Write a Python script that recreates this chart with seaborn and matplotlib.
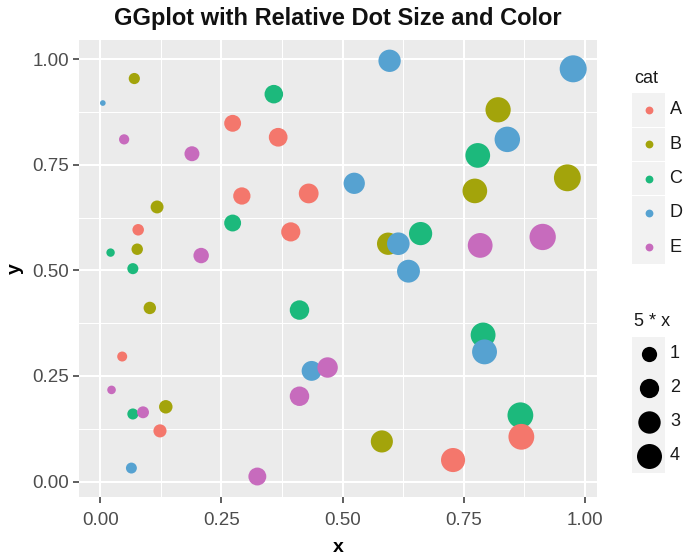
import numpy as np
import pandas as pd
import seaborn as sns
import matplotlib
matplotlib.use("Agg")
import matplotlib.pyplot as plt
from matplotlib.patches import Rectangle

# ---------------- data ----------------
cats = ["A", "B", "C", "D", "E"]
a_x = [0.273, 0.367, 0.292, 0.430, 0.393, 0.078, 0.045, 0.123, 0.869, 0.728]
a_y = [0.848, 0.815, 0.676, 0.682, 0.591, 0.596, 0.296, 0.120, 0.106, 0.051]
b_x = [0.070, 0.117, 0.076, 0.821, 0.773, 0.964, 0.594, 0.102, 0.135, 0.581]
b_y = [0.954, 0.650, 0.550, 0.880, 0.688, 0.719, 0.563, 0.411, 0.177, 0.095]
c_x = [0.358, 0.273, 0.021, 0.067, 0.779, 0.661, 0.411, 0.790, 0.067, 0.867]
c_y = [0.917, 0.612, 0.542, 0.504, 0.772, 0.587, 0.406, 0.347, 0.160, 0.157]
d_x = [0.005, 0.524, 0.597, 0.976, 0.840, 0.615, 0.636, 0.436, 0.793, 0.064]
d_y = [0.896, 0.706, 0.996, 0.977, 0.810, 0.563, 0.498, 0.262, 0.307, 0.032]
e_x = [0.049, 0.189, 0.208, 0.784, 0.913, 0.469, 0.023, 0.411, 0.088, 0.324]
e_y = [0.810, 0.776, 0.535, 0.559, 0.579, 0.270, 0.217, 0.202, 0.164, 0.012]
x_ticks = [0.00, 0.25, 0.50, 0.75, 1.00]
y_ticks = [0.00, 0.25, 0.50, 0.75, 1.00]
size_breaks = [1, 2, 3, 4]

colors = {"A": "#F4776C", "B": "#A3A40B", "C": "#1CB97C", "D": "#56A2D1", "E": "#C76BBD"}

# draw order (to reproduce overlaps)
order = ["C", "B", "D", "A", "E"]
xs = {"A": a_x, "B": b_x, "C": c_x, "D": d_x, "E": e_x}
ys = {"A": a_y, "B": b_y, "C": c_y, "D": d_y, "E": e_y}
df = pd.concat([pd.DataFrame({"x": xs[c], "y": ys[c], "cat": c}) for c in order],
               ignore_index=True)
df["sx"] = 5 * df["x"]

# ggplot-like area scale: diameter 1..6 ~ sqrt of rescaled value
vmin, vmax = df["sx"].min(), df["sx"].max()
PX_PER_UNIT = 1.5  # px per ggplot pt
DPI = 100


def area_for(v):
    size = 1 + 5 * np.sqrt((v - vmin) / (vmax - vmin))
    d_px = PX_PER_UNIT * (2.845 * size + 0.94)
    d_pt = d_px * 72 / DPI
    return d_pt ** 2


size_map = {v: area_for(v) for v in df["sx"].unique()}

# ---------------- figure ----------------
W, H = 685, 559
fig = plt.figure(figsize=(W / DPI, H / DPI), dpi=DPI)
L, R, T, B = 79.3, 596.7, 40, 497.3
ax = fig.add_axes([L / W, 1 - B / H, (R - L) / W, (B - T) / H])

FONT = "Liberation Sans"
ax.set_facecolor("#EBEBEB")

sns.scatterplot(data=df, x="x", y="y", hue="cat", palette=colors,
                size="sx", sizes=size_map, linewidth=0, legend=False,
                alpha=1, ax=ax, zorder=3)

# limits with 5% expansion
xr = df["x"].max() - df["x"].min()
yr = df["y"].max() - df["y"].min()
ax.set_xlim(df["x"].min() - 0.05 * xr, df["x"].max() + 0.05 * xr)
ax.set_ylim(df["y"].min() - 0.05 * yr, df["y"].max() + 0.05 * yr)

ax.set_xticks(x_ticks)
ax.set_yticks(y_ticks)
ax.set_xticklabels([f"{t:.2f}" for t in x_ticks], fontsize=13.5, color="#4D4D4D", family=FONT)
ax.set_yticklabels([f"{t:.2f}" for t in y_ticks], fontsize=13.5, color="#4D4D4D", family=FONT)
minor = [0.125, 0.375, 0.625, 0.875]
ax.set_xticks(minor, minor=True)
ax.set_yticks(minor, minor=True)
ax.tick_params(which="major", length=4, width=1.1, color="#333333")
ax.tick_params(axis="x", which="major", pad=6.5)
ax.tick_params(axis="y", which="major", pad=3.5)
ax.tick_params(which="minor", length=0)
ax.grid(which="major", color="white", linewidth=1.5, zorder=0)
ax.grid(which="minor", color="white", linewidth=0.75, zorder=0)
ax.set_axisbelow(True)
for s in ax.spines.values():
    s.set_visible(False)

ax.set_xlabel("x", fontsize=14, fontweight="bold", family=FONT, labelpad=7)
ax.set_ylabel("y", fontsize=14, fontweight="bold", family=FONT, labelpad=6)
ax.set_title("GGplot with Relative Dot Size and Color", fontsize=17,
             fontweight="bold", family=FONT, pad=11, color="#111111")

# ---------------- legends (ggplot style) ----------------
lg = fig.add_axes([0, 0, 1, 1], facecolor="none")
lg.set_xlim(0, W)
lg.set_ylim(H, 0)
lg.axis("off")

kx0, kx1 = 632.3, 665.0
kxc = (kx0 + kx1) / 2
kh = 33.5
lg.text(634.3, 78.3, "cat", fontsize=13, family=FONT, va="center", ha="left", color="#1A1A1A")
cat_centers = [110 + i * 34.25 for i in range(len(cats))]
for c, cy in zip(cats, cat_centers):
    lg.add_patch(Rectangle((kx0, cy - kh / 2), kx1 - kx0, kh, facecolor="#F2F2F2",
                           edgecolor="none"))
    lg.scatter([kxc], [cy], s=(1.5 * (2.845 * 1.5 + 0.94) * 72 / DPI) ** 2,
               color=colors[c], linewidth=0, zorder=3)
    lg.text(669.5, cy, c, fontsize=13, family=FONT, va="center", ha="left", color="#1A1A1A")

lg.text(634, 321.7, "5 * x", fontsize=13, family=FONT, va="center", ha="left", color="#1A1A1A")
size_centers = [354 + i * 34.0 for i in range(len(size_breaks))]
for v, cy in zip(size_breaks, size_centers):
    lg.add_patch(Rectangle((kx0, cy - kh / 2), kx1 - kx0, kh, facecolor="#F2F2F2",
                           edgecolor="none"))
    lg.scatter([kxc], [cy], s=area_for(v), color="black", linewidth=0, zorder=3)
    lg.text(670, cy, str(v), fontsize=13, family=FONT, va="center", ha="left", color="#1A1A1A")

fig.savefig("out.png", dpi=DPI, facecolor="white")
